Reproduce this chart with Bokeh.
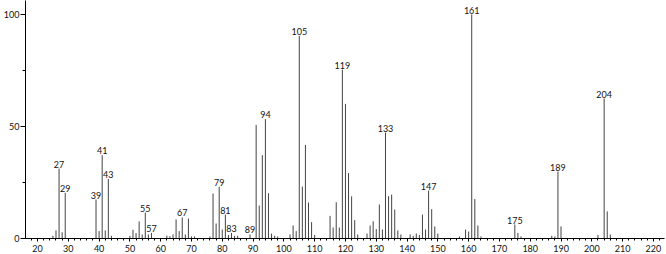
from bokeh.plotting import figure
from bokeh.models import Range1d, SingleIntervalTicker, ColumnDataSource
from bokeh.core.properties import value
from bokeh.embed import file_html
from bokeh.resources import INLINE

mz = [25, 26, 27, 28, 29, 39, 40, 41, 42, 43, 44, 50, 51, 52, 53, 54, 55, 56, 57,
      62, 63, 64, 65, 66, 67, 68, 69, 70, 71, 76, 77, 78, 79, 80, 81, 82, 83, 84, 85,
      89, 91, 92, 93, 94, 95, 96, 97, 98, 102, 103, 104, 105, 106, 107, 108, 109, 110,
      115, 116, 117, 118, 119, 120, 121, 122, 123, 124, 127, 128, 129, 130, 131, 132,
      133, 134, 135, 136, 137, 138, 141, 142, 143, 144, 145, 146, 147, 148, 149, 150,
      157, 159, 160, 161, 162, 163, 164, 175, 176, 177, 187, 188, 189, 190, 202, 204,
      205, 206]
intensity = [1.2, 3.6, 31.2, 2.8, 20.4, 17.4, 3.3, 37.2, 3.6, 26.6, 1.2, 1.2, 3.9, 2.4, 7.6, 1.8, 11.6, 1.8, 2.5,
             1.3, 1.0, 1.8, 8.5, 3.3, 9.4, 1.8, 8.9, 0.9, 0.9, 0.9, 20.1, 6.7, 23.1, 4.0, 10.7, 1.6, 2.5, 1.2, 1.2,
             1.8, 50.7, 14.7, 37.2, 53.3, 20.2, 2.2, 1.2, 0.9, 1.8, 5.8, 3.3, 90.5, 23.2, 41.8, 16.1, 7.3, 1.6,
             10.1, 4.9, 16.2, 4.9, 75.4, 60.1, 29.2, 18.8, 8.2, 1.8, 2.2, 5.8, 7.7, 4.2, 15.2, 4.0,
             47.3, 18.9, 19.6, 12.9, 3.6, 1.8, 1.8, 1.2, 2.2, 1.6, 10.7, 4.0, 21.4, 13.1, 5.4, 2.2,
             0.9, 4.0, 3.1, 100.0, 17.6, 5.8, 0.9, 6.25, 2.5, 0.9, 1.2, 0.9, 29.9, 5.4, 1.6, 62.5,
             12.1, 1.8]
labeled = [27, 29, 39, 41, 43, 55, 57, 67, 79, 81, 83, 89, 94, 105, 119, 133, 147, 161, 175, 189, 204]

FONT = "Lato"
FSIZE = "9px"

p = figure(width=666, height=254, output_backend="svg", toolbar_location=None,
           x_range=Range1d(16.1, 223.6), y_range=Range1d(0, 106.25),
           min_border_left=25, min_border_right=2, min_border_top=0, min_border_bottom=16)
p.outline_line_color = None
p.xgrid.visible = False
p.ygrid.visible = False
p.background_fill_color = "white"
p.border_fill_color = "white"

p.segment(x0=mz, y0=[0] * len(mz), x1=mz, y1=intensity, line_color="#444", line_width=1)

lookup = dict(zip(mz, intensity))
src = ColumnDataSource(dict(x=labeled, y=[lookup[m] for m in labeled], t=[str(m) for m in labeled]))
p.text(x="x", y="y", text="t", source=src, text_align="center", text_baseline="bottom",
       y_offset=-1, text_font=value(FONT), text_font_size=FSIZE, text_color="#111")

for ax in (p.xaxis[0], p.yaxis[0]):
    ax.axis_line_color = "black"
    ax.major_tick_line_color = "black"
    ax.minor_tick_line_color = "black"
    ax.major_label_text_font = FONT
    ax.major_label_text_font_size = FSIZE
    ax.major_label_text_color = "#111"
    ax.major_tick_in = 0
    ax.minor_tick_in = 0

p.xaxis[0].ticker = SingleIntervalTicker(interval=10, num_minor_ticks=5)
p.xaxis[0].major_tick_out = 3
p.xaxis[0].minor_tick_out = 2
p.xaxis[0].major_label_standoff = 3

p.yaxis[0].ticker = SingleIntervalTicker(interval=50, num_minor_ticks=2)
p.yaxis[0].major_tick_out = 5
p.yaxis[0].minor_tick_out = 3
p.yaxis[0].major_label_standoff = 1

open("out.html", "w").write(file_html(p, INLINE))
